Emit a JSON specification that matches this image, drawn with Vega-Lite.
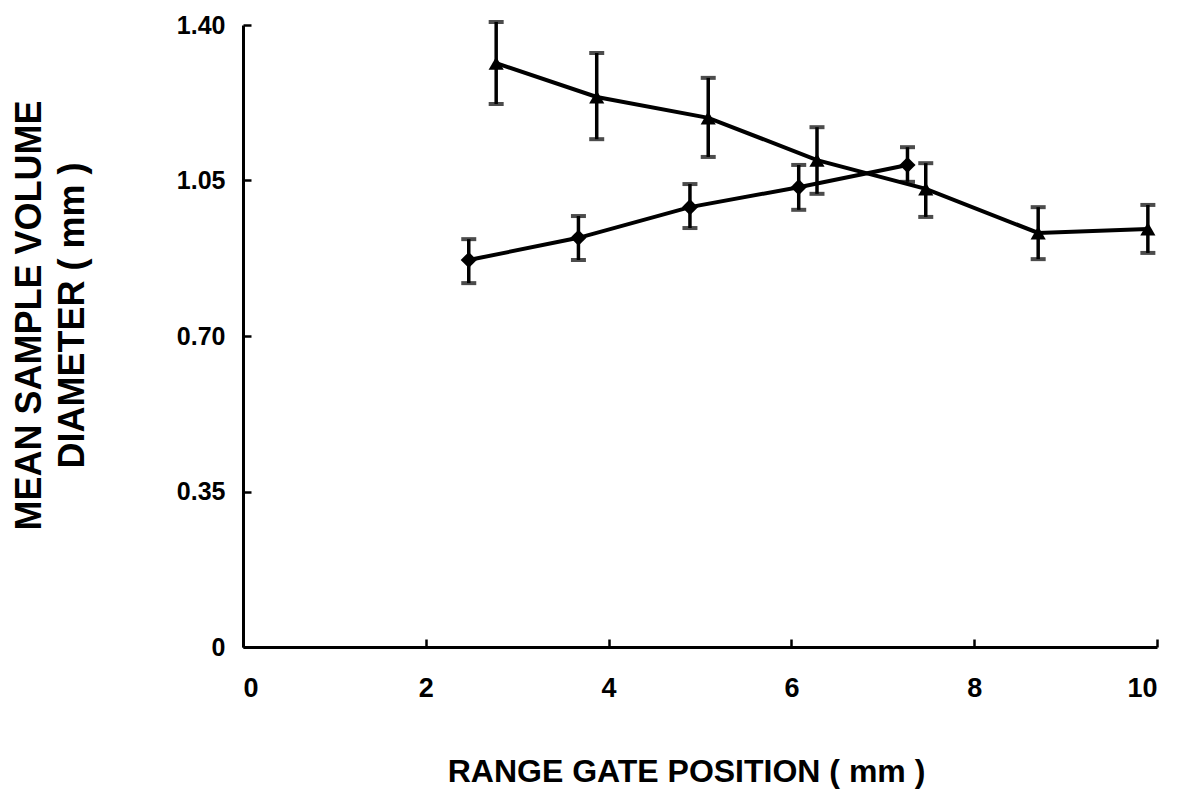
{
  "$schema": "https://vega.github.io/schema/vega-lite/v6.json",
  "width": 914,
  "height": 622,
  "autosize": {"type": "none"},
  "padding": {"left": 243, "top": 25, "right": 29, "bottom": 144},
  "background": "white",
  "config": {
    "view": {"stroke": null},
    "axis": {
      "grid": false,
      "domainColor": "black",
      "domainWidth": 3,
      "tickColor": "black",
      "tickWidth": 2.5,
      "labelColor": "black",
      "titleColor": "black",
      "labelFont": "Liberation Sans",
      "titleFont": "Liberation Sans"
    }
  },
  "data": {
    "values": [
      {"series": "triangle", "x": 2.77, "y": 1.314, "lo": 1.222, "hi": 1.407},
      {"series": "triangle", "x": 3.87, "y": 1.238, "lo": 1.143, "hi": 1.337},
      {"series": "triangle", "x": 5.09, "y": 1.191, "lo": 1.103, "hi": 1.281},
      {"series": "triangle", "x": 6.28, "y": 1.096, "lo": 1.020, "hi": 1.170},
      {"series": "triangle", "x": 7.47, "y": 1.031, "lo": 0.968, "hi": 1.089},
      {"series": "triangle", "x": 8.70, "y": 0.932, "lo": 0.873, "hi": 0.990},
      {"series": "triangle", "x": 9.90, "y": 0.941, "lo": 0.887, "hi": 0.995},
      {"series": "diamond", "x": 2.47, "y": 0.871, "lo": 0.819, "hi": 0.918},
      {"series": "diamond", "x": 3.67, "y": 0.921, "lo": 0.871, "hi": 0.970},
      {"series": "diamond", "x": 4.89, "y": 0.990, "lo": 0.943, "hi": 1.042},
      {"series": "diamond", "x": 6.08, "y": 1.035, "lo": 0.984, "hi": 1.085},
      {"series": "diamond", "x": 7.27, "y": 1.085, "lo": 1.047, "hi": 1.125}
    ]
  },
  "encoding": {
    "x": {
      "field": "x",
      "type": "quantitative",
      "scale": {"domain": [0, 10], "nice": false, "zero": true},
      "axis": {
        "values": [0, 2, 4, 6, 8, 10],
        "format": "d",
        "tickSize": -8,
        "labelPadding": 36,
        "labelFontSize": 27,
        "labelFontWeight": "bold",
        "title": "RANGE GATE POSITION ( mm )",
        "titleFontSize": 32,
        "titleFontWeight": "bold",
        "titleX": 443,
        "titleY": 124,
        "titleBaseline": "middle",
        "titleAlign": "center"
      }
    }
  },
  "layer": [
    {
      "mark": {"type": "rule", "color": "black", "strokeWidth": 3.5},
      "encoding": {
        "y": {
          "field": "lo",
          "type": "quantitative",
          "scale": {"domain": [0, 1.4], "nice": false},
          "axis": {
            "values": [0, 0.35, 0.7, 1.05, 1.4],
            "labelExpr": "datum.value == 0 ? '0' : format(datum.value, '.2f')",
            "tickSize": -8,
            "labelPadding": 26,
            "labelFontSize": 25,
            "labelFontWeight": "bold",
            "title": ["MEAN SAMPLE VOLUME", "DIAMETER ( mm )"],
            "titleFontSize": 36,
            "titleFontWeight": "bold",
            "titleLineHeight": 43,
            "titleX": -214,
            "titleY": 290,
            "titleBaseline": "middle",
            "titleAlign": "center",
            "titleAngle": -90
          }
        },
        "y2": {"field": "hi"}
      }
    },
    {
      "mark": {"type": "tick", "color": "black", "orient": "horizontal", "size": 15, "thickness": 4},
      "encoding": {"y": {"field": "lo", "type": "quantitative"}}
    },
    {
      "mark": {"type": "tick", "color": "black", "orient": "horizontal", "size": 15, "thickness": 4},
      "encoding": {"y": {"field": "hi", "type": "quantitative"}}
    },
    {
      "mark": {"type": "line", "color": "black", "strokeWidth": 4},
      "encoding": {
        "y": {"field": "y", "type": "quantitative"},
        "detail": {"field": "series", "type": "nominal"}
      }
    },
    {
      "mark": {"type": "point", "filled": true, "color": "black", "opacity": 1},
      "encoding": {
        "y": {"field": "y", "type": "quantitative"},
        "shape": {
          "field": "series",
          "type": "nominal",
          "scale": {"domain": ["triangle", "diamond"], "range": ["triangle-up", "diamond"]},
          "legend": null
        },
        "size": {
          "field": "series",
          "type": "nominal",
          "scale": {"domain": ["triangle", "diamond"], "range": [230, 260]},
          "legend": null
        }
      }
    }
  ]
}
